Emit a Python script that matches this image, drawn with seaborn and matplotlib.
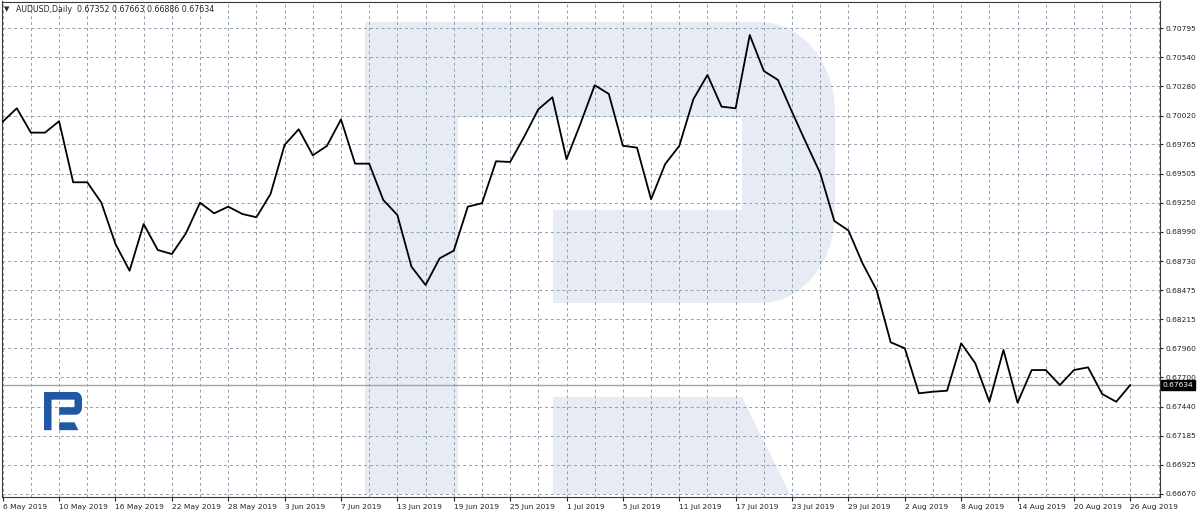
import numpy as np
import pandas as pd
import matplotlib
matplotlib.use("Agg")
import matplotlib.pyplot as plt
import matplotlib.transforms as mtransforms
from matplotlib.path import Path
from matplotlib.patches import PathPatch
import seaborn as sns

# -----------------------------
# Data: AUDUSD daily closes, 6 May - 26 Aug 2019
# -----------------------------
dates = pd.bdate_range("2019-05-06", "2019-08-26")

close = [
    0.69967, 0.70086, 0.69870, 0.69870, 0.69971, 0.69430, 0.69430, 0.69249,
    0.68883, 0.68646, 0.69060, 0.68830, 0.68794, 0.68978, 0.69249, 0.69155,
    0.69214, 0.69149, 0.69120, 0.69326, 0.69761, 0.69900, 0.69669, 0.69752,
    0.69987, 0.69595, 0.69595, 0.69273, 0.69140, 0.68682, 0.68520, 0.68756,
    0.68824, 0.69214, 0.69244, 0.69616, 0.69610, 0.69834, 0.70077, 0.70183,
    0.69634, 0.69953, 0.70290, 0.70213, 0.69754, 0.69737, 0.69279, 0.69592,
    0.69752, 0.70166, 0.70381, 0.70100, 0.70086, 0.70735, 0.70416, 0.70337,
    0.70053, 0.69778, 0.69510, 0.69087, 0.69003, 0.68712, 0.68475, 0.68012,
    0.67959, 0.67560, 0.67574, 0.67583, 0.68003, 0.67826, 0.67485, 0.67944,
    0.67477, 0.67766, 0.67766, 0.67633, 0.67766, 0.67790, 0.67554, 0.67485,
    0.67634,
]

x_labels = [
    "6 May 2019", "10 May 2019", "16 May 2019", "22 May 2019", "28 May 2019",
    "3 Jun 2019", "7 Jun 2019", "13 Jun 2019", "19 Jun 2019", "25 Jun 2019",
    "1 Jul 2019", "5 Jul 2019", "11 Jul 2019", "17 Jul 2019", "23 Jul 2019",
    "29 Jul 2019", "2 Aug 2019", "8 Aug 2019", "14 Aug 2019", "20 Aug 2019",
    "26 Aug 2019",
]

y_ticks = [
    0.70795, 0.70540, 0.70280, 0.70020, 0.69765, 0.69505, 0.69250, 0.68990,
    0.68730, 0.68475, 0.68215, 0.67960, 0.67700, 0.67440, 0.67185, 0.66925,
    0.66670,
]

header = "AUDUSD,Daily  0.67352 0.67663 0.66886 0.67634"
last_price = 0.67634

df = pd.DataFrame({"bar": np.arange(len(dates)), "close": close})

# -----------------------------
# Figure
# -----------------------------
sns.set_style("white")
plt.rcParams["font.family"] = ["DejaVu Sans"]

W, H = 1200, 515
fig = plt.figure(figsize=(W / 100, H / 100), dpi=100)
ax = fig.add_axes([2 / W, 1 - 497 / H, (1159.5 - 2) / W, (497 - 1.5) / H])


# watermark logo (same shape used big and small)
def logo_path(x0, y0, s):
    outer = [(0, 0), (395, 0), (436.4, 0), (470, 40.3), (470, 90), (470, 191),
             (470, 240.7), (436.4, 281), (395, 281), (188, 281), (188, 188),
             (377, 188), (377, 95), (93, 95), (93, 472), (0, 472), (0, 0)]
    codes = [Path.MOVETO, Path.LINETO, Path.CURVE4, Path.CURVE4, Path.CURVE4,
             Path.LINETO, Path.CURVE4, Path.CURVE4, Path.CURVE4, Path.LINETO,
             Path.LINETO, Path.LINETO, Path.LINETO, Path.LINETO, Path.LINETO,
             Path.LINETO, Path.CLOSEPOLY]
    leg = [(188, 375), (377, 375), (425, 472), (188, 472), (188, 375)]
    leg_codes = [Path.MOVETO] + [Path.LINETO] * 3 + [Path.CLOSEPOLY]
    pts = [((x0 + s * u) / W, 1 - (y0 + s * v) / H) for u, v in outer + leg]
    return Path(pts, codes + leg_codes)


ax.add_patch(PathPatch(logo_path(365, 22, 1.0), transform=fig.transFigure,
                       fc="#e6ebf4", ec="none", zorder=0.1))
ax.add_patch(PathPatch(logo_path(44, 392, 38 / 470), transform=fig.transFigure,
                       fc="#1f59a6", ec="none", zorder=1))

# price line
sns.lineplot(data=df, x="bar", y="close", ax=ax, color="black", lw=1.3, zorder=3)
ax.axhline(last_price, color="#9ea6b1", lw=1.0, zorder=2)

ax.set_xlim(-0.05, 82.07)
ax.set_ylim(0.66641, 0.71032)

# axes / grid
tick_pos = np.arange(0, len(dates), 4)
ax.set_xticks(tick_pos)
ax.set_xticklabels(x_labels)
ax.set_xticks(np.arange(2, len(dates) + 2, 4), minor=True)
ax.set_yticks(y_ticks)
ax.set_yticklabels([f"{v:.5f}" for v in y_ticks])
ax.yaxis.tick_right()
ax.set_axisbelow(True)
ax.grid(which="both", axis="x", color="#939eae", lw=0.7, ls=(0, (3, 3)))
ax.grid(which="major", axis="y", color="#939eae", lw=0.7, ls=(0, (3, 3)))

ax.tick_params(axis="x", which="major", length=3, width=0.8, pad=2.2,
               labelsize=5.4, colors="#222222", direction="out", bottom=True)
ax.tick_params(axis="x", which="minor", length=0)
ax.tick_params(axis="y", length=2, width=0.8, pad=2.5, labelsize=5.4,
               colors="#222222", right=True, left=False)
for lab in ax.get_xticklabels():
    lab.set_ha("left")

for sp in ax.spines.values():
    sp.set_color("#3a3a3a")
    sp.set_linewidth(0.8)
ax.set_xlabel("")
ax.set_ylabel("")

# last price tag on the right
trans = mtransforms.blended_transform_factory(ax.transAxes, ax.transData)
ax.text(1.003, last_price, f"{last_price:.5f}", transform=trans, fontsize=5.4,
        color="white", va="center", ha="left", clip_on=False,
        bbox=dict(boxstyle="square,pad=0.25", fc="black", ec="black"))

# header
fig.text(4 / W, 1 - 9 / H, "\u25bc", fontsize=5, va="center", ha="left")
fig.text(16 / W, 1 - 9 / H, header, fontsize=5.7, va="center", ha="left")

fig.savefig("out.png", dpi=100, facecolor="white")
